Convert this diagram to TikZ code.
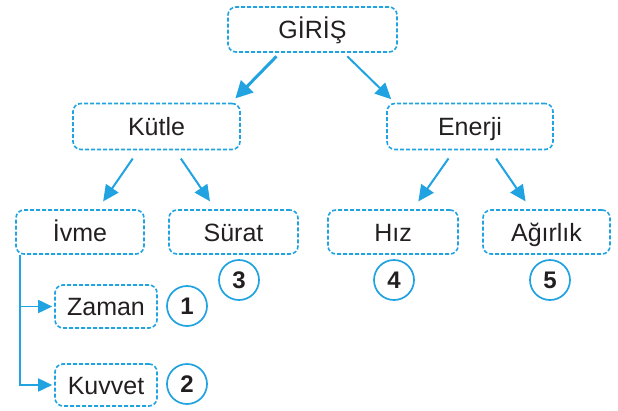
\documentclass[tikz,border=0pt]{standalone}
\usepackage{fontspec}
\setmainfont{Liberation Sans}
\usetikzlibrary{arrows.meta,calc}
\definecolor{sky}{RGB}{32,163,224}
\definecolor{ink}{RGB}{35,31,32}
\tikzset{
  box/.style={draw=sky, line width=1.6pt, dash pattern=on 4pt off 2pt,
    rounded corners=8pt, text=ink, inner sep=0pt,
    font=\fontsize{25}{29}\selectfont, text height=18pt, text depth=0pt},
  num/.style={circle, draw=sky, line width=1.7pt, minimum size=40pt,
    inner sep=0pt, text=ink, font=\fontsize{24}{28}\selectfont\bfseries},
  arrbig/.style={draw=sky, fill=sky, line width=3pt,
    -{Triangle[length=17pt,width=17pt]}, shorten <=5pt, shorten >=6pt},
  arrmid/.style={draw=sky, fill=sky, line width=2pt,
    -{Triangle[length=16pt,width=15pt]}, shorten <=5pt, shorten >=5pt},
  arrsm/.style={draw=sky, fill=sky, line width=2pt,
    -{Triangle[length=16pt,width=15pt]}, shorten <=10pt, shorten >=9.5pt},
  link/.style={draw=sky, line width=1.7pt},
  linktip/.style={link, -{Triangle[length=14pt,width=13pt]}, shorten >=2pt}
}
\begin{document}
\begin{tikzpicture}[x=1pt,y=-1pt]
\useasboundingbox (0,0) rectangle (618,410);

% boxes
\node[box, minimum width=169pt, minimum height=45pt] (giris) at (312.5,29.5) {GİRİŞ};
\node[box, minimum width=167pt, minimum height=46pt] (kutle) at (156.5,126.5) {Kütle};
\node[box, minimum width=166pt, minimum height=46pt] (enerji) at (470,126.5) {Enerji};
\node[box, minimum width=128pt, minimum height=44pt] (ivme) at (80,232) {İvme};
\node[box, minimum width=129pt, minimum height=44pt] (surat) at (233.5,232) {Sürat};
\node[box, minimum width=130pt, minimum height=44pt] (hiz) at (393,232) {Hız};
\node[box, minimum width=127pt, minimum height=44pt] (agirlik) at (546.5,232) {Ağırlık};
\node[box, minimum width=102pt, minimum height=43pt] (zaman) at (106,306.5) {Zaman};
\node[box, minimum width=102pt, minimum height=42pt] (kuvvet) at (106,385) {Kuvvet};

% numbered circles
\node[num] (c1) at (187,306) {1};
\node[num] (c2) at (187,384) {2};
\node[num] (c3) at (239,280) {3};
\node[num] (c4) at (394,280) {4};
\node[num] (c5) at (550,280) {5};

% arrows between levels
\draw[arrbig] ($(giris.south west)!0.309!(giris.south east)$) -- ($(kutle.north west)!0.943!(kutle.north east)$);
\draw[arrmid] ($(giris.south west)!0.683!(giris.south east)$) -- ($(enerji.north west)!0.051!(enerji.north east)$);
\draw[arrsm] ($(kutle.south west)!0.393!(kutle.south east)$) -- ($(ivme.north west)!0.637!(ivme.north east)$);
\draw[arrsm] ($(kutle.south west)!0.611!(kutle.south east)$) -- ($(surat.north west)!0.361!(surat.north east)$);
\draw[arrsm] ($(enerji.south west)!0.406!(enerji.south east)$) -- ($(hiz.north west)!0.651!(hiz.north east)$);
\draw[arrsm] ($(enerji.south west)!0.622!(enerji.south east)$) -- ($(agirlik.north west)!0.379!(agirlik.north east)$);

% branch from İvme
\coordinate (trunk) at ([xshift=5pt]ivme.south west);
\draw[linktip] (trunk) |- (kuvvet.west);
\draw[linktip] (trunk |- zaman.west) -- (zaman.west);
\end{tikzpicture}
\end{document}
